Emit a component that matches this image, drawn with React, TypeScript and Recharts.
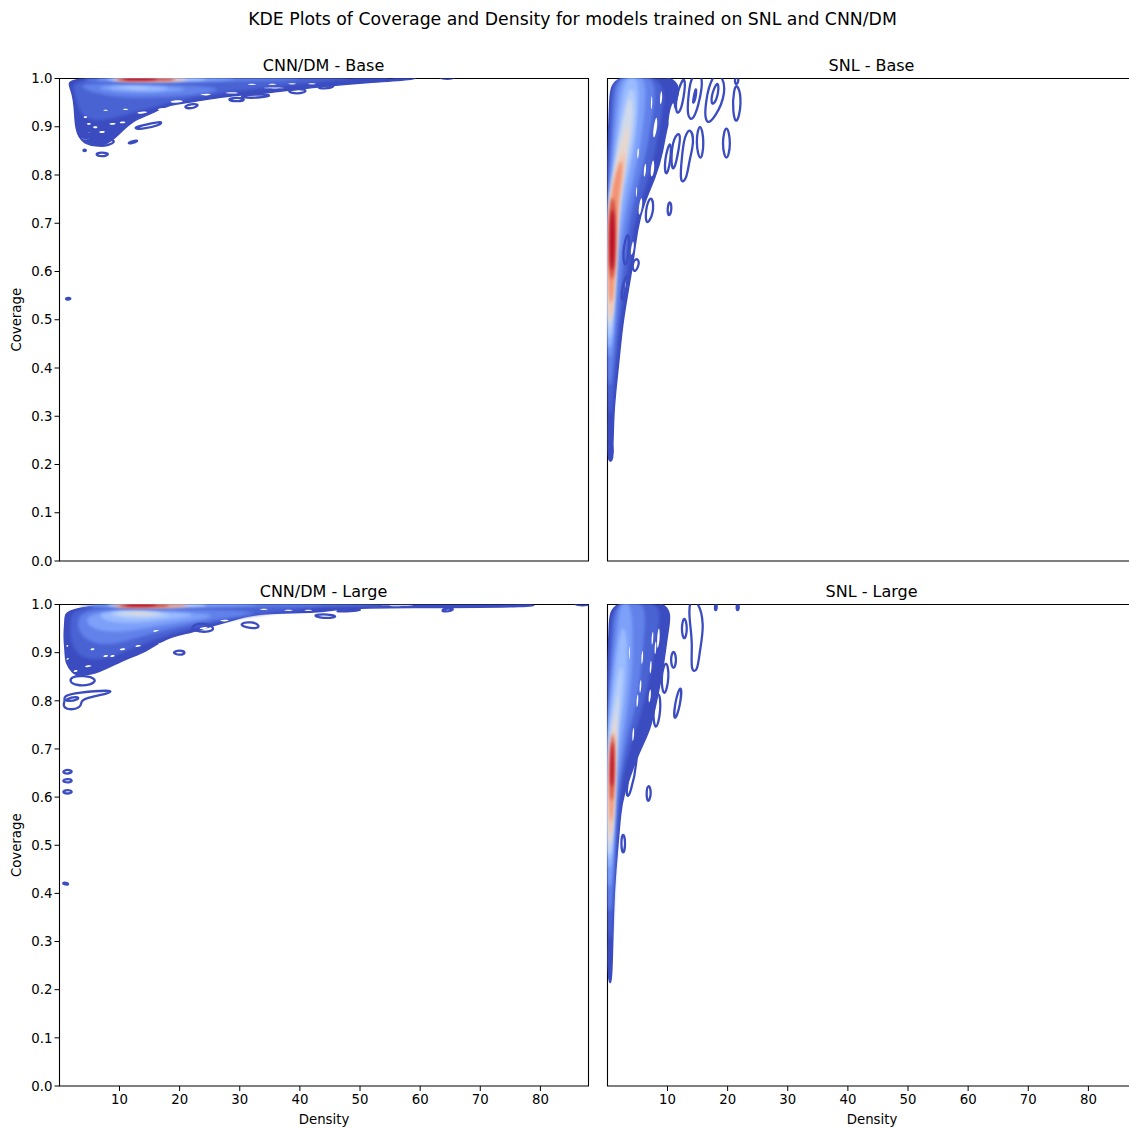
import { ReferenceArea, Scatter, ScatterChart, XAxis, YAxis } from "recharts";

type Pt = [number, number];

const densityTicks = [10, 20, 30, 40, 50, 60, 70, 80];
const coverageTicks = [0, 0.1, 0.2, 0.3, 0.4, 0.5, 0.6, 0.7, 0.8, 0.9, 1];

// coolwarm, low to high
const shadeColors = [
  "#3b4cc0", "#4a63d3", "#6282ea", "#7da0f9", "#9abbff", "#b6cefa",
  "#d1dae9", "#e8d6cc", "#f5c4ac", "#f29274", "#d44e41", "#b40426",
];
const loopColor = "#3b4cc0";

// density levels, low to high. shades say which colour each one takes
const cnnBaseShades = [0, 1, 2, 3, 4, 5, 2, 3, 5, 8, 10, 11];
const cnnBaseLevels: Pt[][] = [
  [[1.5, 1.01], [1.6, 0.985], [2.2, 0.968], [2.5, 0.94], [2.6, 0.912], [2.9, 0.885], [4.2, 0.862], [7.5, 0.858], [10, 0.885], [12, 0.912], [15.5, 0.928], [18, 0.946], [22.6, 0.952], [27, 0.963], [34.8, 0.97], [43.8, 0.984], [52, 0.993], [60, 0.998], [60, 1.01]],
  [[2, 1.01], [2.3, 0.975], [3, 0.95], [3.5, 0.925], [6, 0.91], [10, 0.92], [15, 0.94], [22, 0.96], [30, 0.975], [40, 0.99], [50, 1], [50, 1.01]],
  [[3, 0.985], [6, 0.968], [12, 0.958], [20, 0.962], [28, 0.975], [24, 0.986], [12, 0.99], [5, 0.99]],
  [[5, 0.982], [10, 0.97], [16, 0.969], [23, 0.977], [17, 0.985], [10, 0.987]],
  [[7, 0.981], [12, 0.975], [17, 0.975], [19, 0.98], [15, 0.984], [10, 0.985]],
  [[9, 0.981], [13, 0.978], [16, 0.979], [13, 0.983]],
  [[3, 1.004], [4, 0.993], [12, 0.992], [25, 0.993], [40, 0.996], [42, 1.004]],
  [[5, 1.004], [6, 0.995], [14, 0.993], [28, 0.994], [32, 1.004]],
  [[7, 1.004], [8, 0.995], [14, 0.993], [24, 0.995], [26, 1.004]],
  [[8, 1.004], [9, 0.995], [12, 0.994], [18, 0.994], [21, 0.995], [22, 1.004]],
  [[9, 1.004], [9.5, 0.995], [12, 0.995], [17, 0.995], [19, 0.995], [20, 1.004]],
  [[10, 1.004], [10.5, 0.997], [13, 0.996], [16, 0.997], [17, 1.004]],
];
const cnnBaseGaps: Pt[][] = [
  [[18, 0.951], [19.5, 0.956], [21, 0.953], [19.5, 0.949]],
  [[23, 0.966], [24.5, 0.969], [25.5, 0.967], [24.5, 0.964]],
  [[27, 0.97], [29, 0.972], [30, 0.97], [29, 0.968]],
  [[33, 0.98], [36, 0.982], [38, 0.98], [36, 0.979]],
  [[12.6, 0.929], [14, 0.933], [15, 0.93], [13.5, 0.926]],
  [[16, 0.935], [17.2, 0.94], [18.2, 0.937], [17, 0.933]],
  [[8, 0.906], [9, 0.909], [9.6, 0.906], [8.8, 0.903]],
  [[9.8, 0.909], [10.6, 0.912], [11.2, 0.909], [10.4, 0.906]],
  [[6.4, 0.889], [7.2, 0.892], [7.8, 0.889], [7, 0.886]],
  [[4.4, 0.889], [5, 0.892], [5.4, 0.889], [4.9, 0.886]],
  [[5.4, 0.899], [6, 0.902], [6.5, 0.899], [6, 0.896]],
  [[3.9, 0.92], [4.3, 0.923], [4.8, 0.92], [4.3, 0.917]],
  [[4.4, 0.906], [4.9, 0.909], [5.4, 0.906], [4.9, 0.903]],
  [[7.1, 0.934], [7.7, 0.936], [8.3, 0.934], [7.7, 0.932]],
  [[10.4, 0.936], [11, 0.938], [11.6, 0.936], [11, 0.934]],
  [[3.4, 0.876], [4.5, 0.879], [5.2, 0.876], [4.3, 0.873]],
  [[31, 0.988], [32, 0.99], [33, 0.988], [32, 0.986]],
  [[34.4, 0.988], [35.4, 0.99], [36.4, 0.988], [35.4, 0.986]],
  [[37.7, 0.989], [38.7, 0.991], [39.7, 0.989], [38.7, 0.987]],
  [[41, 0.989], [42, 0.991], [43, 0.989], [42, 0.987]],
];
const cnnBaseLoops: Pt[][] = [
  [[5.8, 0.843], [7, 0.848], [8.6, 0.843], [7, 0.837]],
  [[3.9, 0.851], [4.2, 0.853], [4.5, 0.851], [4.2, 0.849]],
  [[11.2, 0.866], [12.6, 0.872], [13.2, 0.871], [12, 0.865]],
  [[12, 0.898], [15, 0.906], [17.2, 0.912], [16.8, 0.903], [13.5, 0.894]],
  [[5.8, 0.868], [8, 0.874], [9.5, 0.871], [8.3, 0.861], [6, 0.86]],
  [[3.2, 0.885], [5, 0.892], [6.4, 0.886], [5, 0.876], [3.4, 0.877]],
  [[27.6, 0.957], [29.6, 0.961], [31.2, 0.957], [29.6, 0.951]],
  [[20.5, 0.942], [22.5, 0.949], [23.4, 0.944], [21.5, 0.936]],
  [[37.5, 0.974], [40, 0.98], [41.5, 0.974], [39.5, 0.967]],
  [[30, 0.965], [34, 0.968], [35.5, 0.964], [33, 0.96], [30.5, 0.96]],
  [[42.5, 0.982], [45, 0.987], [46, 0.984], [44, 0.978]],
  [[1, 0.544], [1.6, 0.546], [2, 0.543], [1.2, 0.541]],
  [[54.5, 1.004], [57, 0.997], [59, 1.004]],
  [[62.5, 1.004], [64.5, 0.997], [66.5, 1.004]],
  [[48, 0.996], [52, 0.996], [56, 0.999], [50, 1.002]],
];

const snlBaseShades = [0, 1, 2, 3, 4, 5, 6, 7, 8, 9, 10, 11];
const snlBaseLevels: Pt[][] = [
  [[0.25, 0.205], [0.9, 0.205], [1, 0.3], [1.35, 0.35], [1.8, 0.4], [2.5, 0.49], [3.3, 0.55], [4.3, 0.62], [5, 0.69], [6, 0.74], [8, 0.795], [9.2, 0.845], [10, 0.913], [11.6, 0.95], [12.5, 1.01], [0.7, 1.01], [0.4, 0.96], [0.1, 0.85], [-0.5, 0.7], [-0.5, 0.4], [0, 0.25]],
  [[0.2, 0.3], [0.7, 0.3], [1.3, 0.4], [2, 0.49], [2.8, 0.56], [3.6, 0.62], [4.3, 0.69], [5.4, 0.74], [7, 0.8], [8, 0.85], [9, 0.92], [10, 1.01], [1, 1.01], [0.6, 0.96], [0.3, 0.85], [-0.3, 0.7], [-0.3, 0.4]],
  [[0.1, 0.36], [0.7, 0.36], [1.2, 0.44], [1.9, 0.52], [2.5, 0.6], [3.3, 0.68], [4.4, 0.75], [6, 0.82], [7, 0.88], [7.8, 0.95], [8.2, 1.01], [1.5, 1.01], [1, 0.96], [0.6, 0.85], [-0.2, 0.7], [-0.2, 0.45]],
  [[0.1, 0.42], [0.7, 0.42], [1.2, 0.5], [1.7, 0.58], [2.2, 0.65], [3, 0.72], [4.5, 0.8], [5.8, 0.88], [6.3, 0.95], [6.5, 1.01], [2.3, 1.01], [1.6, 0.96], [1, 0.87], [0.3, 0.78], [-0.2, 0.7], [-0.2, 0.5]],
  [[0, 0.44], [0.7, 0.44], [1.2, 0.52], [1.6, 0.62], [2.1, 0.7], [3.2, 0.78], [4.6, 0.86], [5.2, 0.94], [5.3, 1.005], [3, 1.005], [2.2, 0.95], [1.4, 0.87], [0.7, 0.78], [-0.2, 0.7], [-0.2, 0.5]],
  [[0.1, 0.46], [0.7, 0.46], [1.1, 0.54], [1.5, 0.64], [1.9, 0.72], [3, 0.8], [4.2, 0.86], [4.8, 0.94], [4.5, 0.98], [3.5, 0.98], [2.6, 0.93], [1.7, 0.86], [0.9, 0.78], [-0.2, 0.72], [-0.2, 0.52]],
  [[0.1, 0.48], [0.6, 0.48], [1.1, 0.56], [1.5, 0.66], [1.9, 0.74], [2.9, 0.82], [3.9, 0.88], [4.3, 0.94], [3.7, 0.97], [2.8, 0.92], [1.9, 0.87], [1, 0.8], [0.1, 0.74], [-0.2, 0.56]],
  [[0.1, 0.49], [0.7, 0.49], [1.2, 0.57], [1.6, 0.68], [2, 0.75], [2.8, 0.82], [3.5, 0.87], [3.7, 0.91], [2.9, 0.89], [1.9, 0.85], [1, 0.79], [0.2, 0.74], [-0.1, 0.58]],
  [[0.2, 0.5], [0.8, 0.5], [1.3, 0.58], [1.7, 0.7], [2.2, 0.77], [2.9, 0.81], [3, 0.86], [2, 0.83], [1, 0.78], [0.2, 0.7]],
  [[0.2, 0.53], [1, 0.53], [1.4, 0.66], [1.8, 0.75], [2.5, 0.8], [2.5, 0.84], [1.5, 0.81], [0.6, 0.76], [0.1, 0.66]],
  [[0.3, 0.58], [1.2, 0.58], [1.5, 0.68], [1.3, 0.75], [0.5, 0.76], [0.2, 0.68]],
  [[0.5, 0.6], [1.05, 0.6], [1.2, 0.67], [1.05, 0.73], [0.6, 0.73], [0.4, 0.67]],
];
const snlBaseGaps: Pt[][] = [
  [[11, 0.96], [11.2, 0.93], [10.2, 0.89], [10.1, 0.92]],
  [[8.2, 0.93], [8.4, 0.9], [7.7, 0.87], [7.5, 0.89]],
  [[7.7, 0.84], [7.9, 0.81], [7.3, 0.79], [7.1, 0.81]],
  [[5.7, 0.76], [5.9, 0.74], [5.3, 0.71], [5.1, 0.73]],
  [[4.3, 0.67], [4.5, 0.65], [4, 0.63], [3.8, 0.64]],
  [[3.3, 0.59], [3.4, 0.57], [3, 0.55], [2.9, 0.57]],
  [[9, 0.98], [9.2, 0.96], [8.8, 0.94], [8.7, 0.96]],
  [[6.4, 0.83], [6.5, 0.81], [6.1, 0.79], [6, 0.81]],
  [[5.1, 0.86], [5.3, 0.85], [5.1, 0.83], [4.9, 0.84]],
  [[7.4, 0.97], [7.5, 0.95], [7.3, 0.93], [7.2, 0.95]],
  [[4.9, 0.78], [5, 0.77], [4.8, 0.75], [4.7, 0.76]],
];
const snlBaseLoops: Pt[][] = [
  [[19.8, 0.911], [20.65, 0.866], [19.8, 0.821], [18.95, 0.866]],
  [[15.4, 0.915], [16.2, 0.868], [15.5, 0.82], [14.6, 0.868]],
  [[13.8, 0.9], [14.5, 0.87], [13.6, 0.83], [13.2, 0.79], [12, 0.78], [12.4, 0.84], [12.8, 0.88]],
  [[10.4, 0.75], [10.8, 0.73], [10.2, 0.71], [9.9, 0.73]],
  [[19, 1.01], [19.8, 0.97], [18, 0.92], [16.3, 0.9], [16.2, 0.95], [17.5, 1.01]],
  [[18.4, 1], [18.6, 0.97], [17.5, 0.94], [17.1, 0.96]],
  [[21.7, 0.99], [22.4, 0.95], [21.5, 0.9], [20.8, 0.93], [21, 0.98]],
  [[21.5, 1.02], [22, 0.99], [21, 0.985]],
  [[16, 1.01], [15.5, 0.96], [14.3, 0.91], [13.2, 0.92], [13.5, 0.97], [14, 1.01]],
  [[14.8, 0.99], [14.8, 0.96], [14, 0.94]],
  [[13, 1.01], [12.8, 0.96], [11.8, 0.92], [11.2, 0.94], [11.8, 0.98]],
  [[12.2, 0.89], [12, 0.86], [11, 0.8], [10.5, 0.83], [11, 0.88]],
  [[10.6, 0.88], [10.6, 0.83], [9.7, 0.79], [9.4, 0.83]],
  [[7.5, 0.76], [7.8, 0.72], [6.3, 0.69], [6.4, 0.74]],
  [[4.7, 0.63], [5.5, 0.62], [4.6, 0.595], [4, 0.61]],
  [[3.5, 0.69], [3.7, 0.65], [3, 0.6], [2.4, 0.64]],
  [[3.4, 0.6], [3.2, 0.56], [2.3, 0.53], [2.4, 0.57]],
  [[0.3, 0.25], [0.9, 0.245], [0.9, 0.21], [0.3, 0.205], [0.1, 0.23]],
];

const cnnLargeShades = [0, 1, 2, 3, 4, 5, 6, 7, 2, 3, 6, 9, 10, 11];
const cnnLargeLevels: Pt[][] = [
  [[1, 1.01], [1, 0.971], [0.7, 0.936], [1, 0.9], [1, 0.879], [2.2, 0.857], [3.2, 0.852], [6.5, 0.857], [11, 0.888], [14.3, 0.9], [17.6, 0.931], [22, 0.942], [25.5, 0.956], [29.8, 0.971], [33, 0.983], [43.8, 0.983], [46, 0.992], [56.7, 0.994], [80, 0.994], [81.4, 1.005]],
  [[2, 1.004], [2, 0.97], [1.7, 0.94], [2.2, 0.91], [4, 0.885], [8, 0.885], [13, 0.915], [20, 0.945], [30, 0.975], [40, 0.99], [50, 1.004]],
  [[3, 0.975], [3, 0.945], [5, 0.92], [9, 0.915], [14, 0.935], [20, 0.955], [28, 0.972], [35, 0.985], [25, 0.99], [12, 0.993], [5, 0.99]],
  [[4, 0.975], [5, 0.95], [9, 0.94], [14, 0.95], [21, 0.965], [28, 0.978], [18, 0.987], [8, 0.988]],
  [[6, 0.977], [9, 0.96], [14, 0.962], [20, 0.972], [24, 0.98], [15, 0.986], [8, 0.987]],
  [[8, 0.98], [11, 0.97], [15, 0.971], [20, 0.978], [15, 0.985], [9, 0.986]],
  [[9, 0.982], [12, 0.976], [16, 0.977], [18, 0.981], [14, 0.985], [10, 0.985]],
  [[11, 0.982], [14, 0.979], [16, 0.981], [13, 0.984]],
  [[2, 1.004], [3, 0.995], [12, 0.993], [30, 0.995], [55, 0.998], [56, 1.004]],
  [[4, 1.004], [5, 0.995], [14, 0.993], [32, 0.996], [36, 1.004]],
  [[7, 1.004], [8, 0.995], [14, 0.993], [24, 0.995], [26, 1.004]],
  [[8.5, 1.004], [9, 0.995], [12, 0.994], [18, 0.994], [21, 0.995], [22, 1.004]],
  [[9.5, 1.004], [10, 0.995], [12, 0.995], [16, 0.995], [18, 0.995], [19, 1.004]],
  [[10.5, 1.004], [11, 0.997], [13, 0.996], [16, 0.997], [17, 1.004]],
];
const cnnLargeGaps: Pt[][] = [
  [[15.4, 0.944], [16, 0.948], [16.8, 0.946], [16, 0.943]],
  [[12.4, 0.913], [13.1, 0.917], [13.8, 0.915], [13.1, 0.911]],
  [[9.8, 0.906], [10.5, 0.91], [11.2, 0.908], [10.5, 0.904]],
  [[7.1, 0.892], [7.7, 0.896], [8.3, 0.894], [7.7, 0.89]],
  [[8.3, 0.892], [8.8, 0.896], [9.4, 0.894], [8.8, 0.89]],
  [[5, 0.906], [5.5, 0.91], [6, 0.908], [5.5, 0.904]],
  [[4, 0.871], [4.8, 0.875], [5.6, 0.873], [4.8, 0.869]],
  [[2.2, 0.861], [2.7, 0.865], [3.2, 0.863], [2.7, 0.859]],
  [[1.1, 0.886], [1.4, 0.89], [1.7, 0.888], [1.3, 0.884]],
  [[1.1, 0.913], [1.3, 0.917], [1.6, 0.915], [1.3, 0.911]],
  [[16, 0.918], [17.5, 0.923], [18.5, 0.921], [17, 0.916]],
  [[23, 0.95], [24, 0.954], [25, 0.952], [24, 0.948]],
  [[26.4, 0.966], [27.5, 0.969], [28.5, 0.967], [27.5, 0.964]],
  [[33, 0.99], [34, 0.992], [35, 0.99], [34, 0.988]],
  [[37, 0.988], [38.1, 0.99], [39.2, 0.988], [38.1, 0.986]],
  [[40.4, 0.988], [41.4, 0.99], [42.4, 0.988], [41.4, 0.986]],
  [[52, 0.997], [57, 0.999], [60, 0.997], [56, 0.996]],
];
const cnnLargeLoops: Pt[][] = [
  [[2, 0.85], [4, 0.853], [6.4, 0.845], [5.3, 0.832], [2.6, 0.832], [1.7, 0.84]],
  [[0.6, 0.81], [3, 0.817], [8.8, 0.823], [8.6, 0.816], [4, 0.805], [3.6, 0.797], [3.6, 0.786], [1.5, 0.78], [0.5, 0.79], [1, 0.8]],
  [[0.9, 0.803], [3, 0.81], [3.4, 0.803], [1.2, 0.798]],
  [[0.6, 0.656], [2, 0.657], [2.2, 0.65], [0.6, 0.648]],
  [[0.6, 0.637], [2, 0.638], [2.2, 0.631], [0.6, 0.63]],
  [[0.6, 0.614], [2, 0.615], [2.2, 0.608], [0.6, 0.607]],
  [[0.6, 0.423], [1.3, 0.422], [1.6, 0.418], [0.6, 0.419]],
  [[18.6, 0.9], [20, 0.906], [21.2, 0.9], [20, 0.894]],
  [[29.8, 0.96], [31, 0.952], [33, 0.95], [33.3, 0.957], [32, 0.965]],
  [[42, 0.98], [46, 0.979], [46, 0.972], [43, 0.972]],
  [[22, 0.945], [25.5, 0.942], [25.8, 0.955], [23.5, 0.963], [22, 0.955]],
  [[64.5, 0.993], [66, 0.99], [64, 0.984], [63.5, 0.988]],
  [[46, 0.988], [52, 0.99], [46, 0.984]],
  [[85.5, 1.004], [86, 0.998], [88, 0.998], [88.4, 1.004]],
];

const snlLargeShades = [0, 1, 2, 3, 4, 5, 6, 7, 8, 9, 10, 11];
const snlLargeLevels: Pt[][] = [
  [[0.3, 0.212], [0.8, 0.212], [1, 0.4], [1.7, 0.489], [2.2, 0.572], [2.7, 0.603], [3.8, 0.644], [5.2, 0.692], [7.2, 0.742], [8, 0.79], [9.2, 0.859], [10.1, 0.95], [11, 1.01], [0.5, 1.01], [0.35, 0.96], [0, 0.87], [-0.5, 0.7], [-0.5, 0.4], [0, 0.25]],
  [[0.2, 0.3], [0.8, 0.3], [1.1, 0.42], [1.6, 0.53], [2.2, 0.62], [3.2, 0.68], [4.5, 0.73], [6, 0.79], [7.2, 0.86], [8.5, 0.95], [9.2, 1.01], [0.9, 1.01], [0.6, 0.95], [0.3, 0.87], [-0.3, 0.7], [-0.3, 0.4]],
  [[0.1, 0.36], [0.8, 0.36], [1.1, 0.46], [1.5, 0.57], [2.2, 0.65], [3.4, 0.73], [4.8, 0.79], [5.6, 0.86], [6.2, 0.95], [6.5, 1.01], [1.4, 1.01], [1, 0.95], [0.5, 0.87], [-0.2, 0.7], [-0.2, 0.42]],
  [[0.1, 0.41], [0.7, 0.41], [1.1, 0.5], [1.5, 0.6], [2.1, 0.68], [3.2, 0.76], [4, 0.84], [4.3, 0.92], [4, 1.01], [2.2, 1.01], [1.6, 0.95], [0.9, 0.87], [0.3, 0.8], [-0.2, 0.7], [-0.2, 0.46]],
  [[0.1, 0.45], [0.7, 0.45], [1.05, 0.54], [1.4, 0.62], [1.9, 0.72], [2.8, 0.79], [3.3, 0.86], [3.3, 0.94], [2.5, 0.96], [1.8, 0.92], [1.1, 0.85], [0.5, 0.78], [-0.2, 0.7], [-0.2, 0.5]],
  [[0.1, 0.47], [0.7, 0.47], [1, 0.55], [1.3, 0.64], [1.7, 0.74], [2.4, 0.81], [2.6, 0.87], [2.1, 0.875], [1.3, 0.82], [0.6, 0.76], [-0.2, 0.7], [-0.2, 0.52]],
  [[0.1, 0.48], [0.6, 0.48], [1, 0.56], [1.3, 0.66], [1.6, 0.74], [2, 0.8], [1.8, 0.82], [1.2, 0.78], [0.5, 0.72], [-0.1, 0.66], [-0.1, 0.54]],
  [[0.1, 0.5], [0.7, 0.5], [1.1, 0.58], [1.35, 0.68], [1.5, 0.74], [1.5, 0.78], [1, 0.75], [0.5, 0.7], [0, 0.6]],
  [[0.2, 0.52], [0.85, 0.52], [1.2, 0.62], [1.35, 0.7], [1.3, 0.75], [0.8, 0.72], [0.3, 0.66]],
  [[0.3, 0.54], [0.95, 0.55], [1.2, 0.65], [1.2, 0.72], [0.85, 0.73], [0.4, 0.68]],
  [[0.4, 0.59], [1, 0.59], [1.2, 0.66], [1.05, 0.73], [0.7, 0.74], [0.45, 0.66]],
  [[0.55, 0.62], [0.95, 0.62], [1.05, 0.67], [0.95, 0.72], [0.7, 0.71], [0.5, 0.67]],
];
const snlLargeGaps: Pt[][] = [
  [[3.7, 0.92], [3.8, 0.9], [3.7, 0.88], [3.6, 0.9]],
  [[5.9, 0.91], [6, 0.89], [5.7, 0.87], [5.6, 0.89]],
  [[5.6, 0.85], [5.7, 0.83], [5.4, 0.81], [5.3, 0.83]],
  [[5.1, 0.82], [5.2, 0.8], [4.9, 0.78], [4.8, 0.8]],
  [[4.4, 0.75], [4.5, 0.73], [4.2, 0.71], [4.1, 0.73]],
  [[7.6, 0.95], [7.7, 0.93], [7.4, 0.91], [7.3, 0.93]],
  [[8.1, 0.93], [8.2, 0.91], [7.9, 0.89], [7.8, 0.91]],
  [[7.3, 0.89], [7.4, 0.87], [7.1, 0.85], [7, 0.87]],
  [[8.6, 0.96], [8.8, 0.93], [8.3, 0.9], [8.2, 0.93]],
  [[7.2, 0.83], [7.3, 0.81], [6.9, 0.79], [6.8, 0.81]],
  [[3.4, 0.63], [3.5, 0.61], [3.1, 0.59], [3, 0.61]],
];
const snlLargeLoops: Pt[][] = [
  [[12.4, 0.84], [12.2, 0.79], [11, 0.75], [11.2, 0.8]],
  [[11, 0.91], [11.6, 0.885], [11, 0.86], [10.4, 0.885]],
  [[12.8, 0.98], [13.4, 0.95], [12.8, 0.92], [12.2, 0.95]],
  [[15, 1.01], [16.2, 0.96], [15.3, 0.9], [15, 0.86], [13.8, 0.86], [14.2, 0.92], [13.6, 0.97], [13.6, 1.01]],
  [[18, 1.01], [18.3, 0.99], [17.8, 0.985]],
  [[21.6, 1.01], [22, 0.99], [21.4, 0.985]],
  [[8.6, 0.83], [9, 0.78], [8, 0.73], [7.4, 0.78]],
  [[9.8, 0.89], [10.4, 0.85], [9.4, 0.8], [8.8, 0.85]],
  [[6.8, 0.63], [7.4, 0.61], [6.8, 0.585], [6.4, 0.605]],
  [[2.6, 0.53], [3.1, 0.505], [2.6, 0.475], [2.2, 0.505]],
  [[4.4, 0.7], [5.2, 0.69], [3.8, 0.6], [3, 0.6], [3.6, 0.65]],
];

const noDot = () => null;

function band(points: Pt[], key: string, stroke: string, fill: string, width: number, className?: string) {
  return (
    <Scatter
      key={key}
      data={points.map(([x, y]) => ({ x, y }))}
      className={className}
      fill={fill}
      shape={noDot}
      line={{ stroke, fill, strokeWidth: width }}
      lineJointType="basisClosed"
      legendType="none"
      isAnimationActive={false}
    />
  );
}

interface PanelProps {
  title: string;
  left: number;
  top: number;
  plotHeight: number;
  shades: number[];
  levels: Pt[][];
  gaps: Pt[][];
  loops: Pt[][];
  showX?: boolean;
  showY?: boolean;
}

const tickStyle = { fill: "#000", fontSize: 13.3 };

function Panel({ title, left, top, plotHeight, shades, levels, gaps, loops, showX, showY }: PanelProps) {
  return (
    <div style={{ position: "absolute", left: left - 59, top: top - 8 }}>
      <div style={{ position: "absolute", left: 59, width: 529, top: -14, height: 20, lineHeight: "20px", textAlign: "center", fontSize: 16, zIndex: 2 }}>
        {title}
      </div>
      <ScatterChart
        width={590}
        height={plotHeight + 60}
        margin={{ top: 8.5, left: 0.5, right: 1.5, bottom: 0 }}
      >
        <XAxis
          type="number"
          dataKey="x"
          domain={[0.02, 88]}
          ticks={densityTicks}
          interval={0}
          allowDataOverflow
          height={51}
          axisLine={false}
          tickLine={{ stroke: "#000" }}
          tickSize={5}
          tickMargin={4}
          tick={showX ? tickStyle : false}
          label={showX ? { value: "Density", position: "insideBottom", offset: 13, fill: "#000", fontSize: 13.3 } : undefined}
        />
        <YAxis
          type="number"
          dataKey="y"
          domain={[0, 1]}
          ticks={coverageTicks}
          interval={0}
          allowDataOverflow
          width={59}
          axisLine={false}
          tickLine={{ stroke: "#000" }}
          tickSize={5}
          tickMargin={2}
          tick={showY ? tickStyle : false}
          tickFormatter={(v: number) => v.toFixed(1)}
          label={showY ? { value: "Coverage", angle: -90, position: "insideLeft", offset: 16, fill: "#000", fontSize: 13.3, style: { textAnchor: "middle" } } : undefined}
        />
        {levels.map((pts, i) =>
          band(pts, `level-${i}`, shadeColors[shades[i]], shadeColors[shades[i]], i === 0 ? 1.5 : 0, i === 0 ? undefined : "kde-core"),
        )}
        {gaps.map((pts, i) => band(pts, `gap-${i}`, "#fff", "#fff", 0))}
        {loops.map((pts, i) => band(pts, `loop-${i}`, loopColor, "none", 2.3))}
        <ReferenceArea x1={0.02} x2={88} y1={0} y2={1} fill="none" stroke="#000" strokeWidth={1.1} fillOpacity={0} />
      </ScatterChart>
    </div>
  );
}

export default function App() {
  return (
    <div
      style={{
        position: "fixed",
        left: 0,
        top: 0,
        width: 1129,
        height: 1129,
        overflow: "hidden",
        background: "#fff",
        fontFamily: "'DejaVu Sans', sans-serif",
        color: "#000",
      }}
    >
      <style>{`.kde-core { filter: blur(1.1px); }`}</style>
      <div style={{ position: "absolute", left: 0, width: 1145, top: 9, textAlign: "center", fontSize: 17.3, lineHeight: "20px" }}>
        KDE Plots of Coverage and Density for models trained on SNL and CNN/DM
      </div>
      <Panel title="CNN/DM - Base" left={59} top={78} plotHeight={482} shades={cnnBaseShades} levels={cnnBaseLevels} gaps={cnnBaseGaps} loops={cnnBaseLoops} showY />
      <Panel title="SNL - Base" left={607} top={78} plotHeight={482} shades={snlBaseShades} levels={snlBaseLevels} gaps={snlBaseGaps} loops={snlBaseLoops} />
      <Panel title="CNN/DM - Large" left={59} top={604} plotHeight={481} shades={cnnLargeShades} levels={cnnLargeLevels} gaps={cnnLargeGaps} loops={cnnLargeLoops} showX showY />
      <Panel title="SNL - Large" left={607} top={604} plotHeight={481} shades={snlLargeShades} levels={snlLargeLevels} gaps={snlLargeGaps} loops={snlLargeLoops} showX />
    </div>
  );
}
